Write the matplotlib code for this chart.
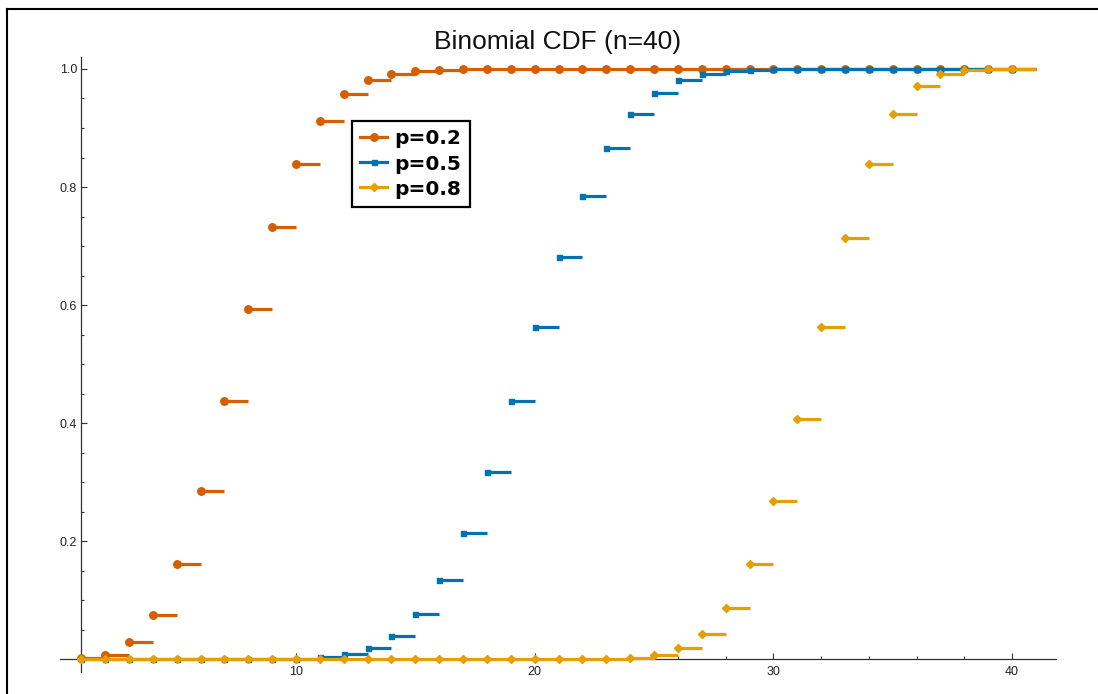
import matplotlib
matplotlib.use("Agg")
import matplotlib.pyplot as plt
from matplotlib.lines import Line2D

# k values shown on the chart
k = list(range(1, 41))

# CDF values, k = 1..40
cdf_p02 = [0.0015, 0.0079, 0.0285, 0.0759, 0.1613, 0.2859, 0.4371, 0.5931, 0.7318, 0.8392,
           0.9125, 0.9568, 0.9806, 0.9921, 0.9971, 0.9990, 0.9997, 0.9999, 1.0, 1.0,
           1.0, 1.0, 1.0, 1.0, 1.0, 1.0, 1.0, 1.0, 1.0, 1.0,
           1.0, 1.0, 1.0, 1.0, 1.0, 1.0, 1.0, 1.0, 1.0, 1.0]
cdf_p05 = [0.0, 0.0, 0.0, 0.0, 0.0, 0.0, 0.0, 0.0001, 0.0003, 0.0011,
           0.0032, 0.0083, 0.0192, 0.0403, 0.0769, 0.1341, 0.2148, 0.3179, 0.4373, 0.5627,
           0.6821, 0.7852, 0.8659, 0.9231, 0.9597, 0.9808, 0.9917, 0.9968, 0.9989, 0.9997,
           0.9999, 1.0, 1.0, 1.0, 1.0, 1.0, 1.0, 1.0, 1.0, 1.0]
cdf_p08 = [0.0, 0.0, 0.0, 0.0, 0.0, 0.0, 0.0, 0.0, 0.0, 0.0,
           0.0, 0.0, 0.0, 0.0, 0.0, 0.0, 0.0, 0.0, 0.0, 0.0,
           0.0001, 0.0003, 0.0010, 0.0029, 0.0079, 0.0194, 0.0432, 0.0875, 0.1608, 0.2682,
           0.4069, 0.5629, 0.7141, 0.8387, 0.9241, 0.9715, 0.9921, 0.9985, 0.9999, 1.0]

labels = ["p=0.2", "p=0.5", "p=0.8"]
colors = ["#D55E00", "#0072B2", "#E69F00"]
markers = ["o", "s", "D"]
msizes = [5.4, 3.6, 4.3]

W, H = 1098, 694
fig = plt.figure(figsize=(W / 100, H / 100), dpi=100)
plt.rcParams["font.family"] = ["Liberation Sans", "DejaVu Sans"]

# figure frame: only the left and top edges fall inside the image
fx, fy = 7 / W, 1 - 9 / H
fig.add_artist(Line2D([fx, fx], [0, fy], transform=fig.transFigure, color="black", lw=1.5))
fig.add_artist(Line2D([fx, 1], [fy, fy], transform=fig.transFigure, color="black", lw=1.5))

ax = fig.add_axes([60 / W, (H - 672) / H, (1056 - 60) / W, (672 - 57) / H])

handles = []
for i, vals in enumerate([cdf_p02, cdf_p05, cdf_p08]):
    xs = k
    ax.hlines(vals, xs, [x + 1 for x in xs], colors=colors[i], lw=2.3, zorder=3 + i)
    ax.plot(xs, vals, linestyle="none", marker=markers[i], ms=msizes[i],
            color=colors[i], mec=colors[i], zorder=3 + i, clip_on=False)
    handles.append(Line2D([], [], color=colors[i], lw=2.3, marker=markers[i],
                          ms=msizes[i], mec=colors[i]))

ax.set_xlim(0.112, 41.84)
ax.set_ylim(-0.0215, 1.0203)

for s in ["top", "right"]:
    ax.spines[s].set_visible(False)
ax.spines["left"].set_position(("data", 1))
ax.spines["bottom"].set_position(("data", 0))
for s in ["left", "bottom"]:
    ax.spines[s].set_linewidth(0.9)
    ax.spines[s].set_color("#333333")

ax.set_xticks([10, 20, 30, 40])
ax.set_xticks(range(2, 42, 2), minor=True)
ax.set_yticks([0.2, 0.4, 0.6, 0.8, 1.0])
ax.set_yticklabels(["0.2", "0.4", "0.6", "0.8", "1.0"])
ax.set_yticks([x / 20 for x in range(0, 21)], minor=True)
ax.tick_params(which="both", direction="in", color="#333333", width=0.8,
               labelsize=9, labelcolor="#222222")
ax.tick_params(which="major", length=4.3)
ax.tick_params(which="minor", length=2.4)
ax.tick_params(axis="x", pad=5)
ax.tick_params(axis="y", pad=3)

fig.text(558 / W, 1 - 42 / H, "Binomial CDF (n=40)", ha="center", va="center",
         fontsize=19, color="#111111")

leg = ax.legend(handles, labels, loc="upper left",
                bbox_to_anchor=(352 / W, 1 - 121 / H), bbox_transform=fig.transFigure,
                borderaxespad=0, frameon=True, fancybox=False, framealpha=1,
                edgecolor="black", borderpad=0.42, handlelength=1.3,
                handletextpad=0.4, labelspacing=0.3,
                prop={"family": "DejaVu Sans", "weight": "bold", "size": 14.5})
leg.get_frame().set_linewidth(1.6)

fig.savefig("out.png", dpi=100)
